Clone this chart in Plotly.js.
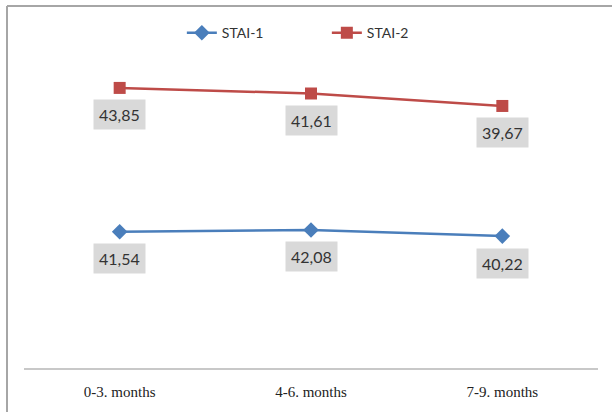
<!DOCTYPE html>
<html>
<head>
<meta charset="utf-8">
<script src="https://cdn.plot.ly/plotly-3.0.1.min.js"></script>
<style>
html,body{margin:0;padding:0;background:#fff;}
#chart{width:612px;height:412px;}
</style>
</head>
<body>
<div id="chart"></div>
<script>
const categories = ['0-3. months', '4-6. months', '7-9. months'];
const stai1 = [41.54, 42.08, 40.22];
const stai2 = [43.85, 41.61, 39.67];
const seriesNames = ['STAI-1', 'STAI-2'];

const fmt = v => v.toFixed(2).replace('.', ',');
const stacked2 = stai1.map((v, i) => v + stai2[i]);

const traces = [
  {
    x: categories, y: stai1, name: seriesNames[0], type: 'scatter', mode: 'lines+markers',
    stackgroup: 'one', fill: 'none',
    line: {color: '#4A7EBB', width: 2.5},
    marker: {symbol: 'diamond', size: 12, color: '#4A7EBB'}
  },
  {
    x: categories, y: stai2, name: seriesNames[1], type: 'scatter', mode: 'lines+markers',
    stackgroup: 'one', fill: 'none',
    line: {color: '#BE4B48', width: 2.5},
    marker: {symbol: 'square', size: 12, color: '#BE4B48'}
  }
];

const annotations = [];
categories.forEach((c, i) => {
  annotations.push({x: c, y: stai1[i], xref: 'x', yref: 'y', text: fmt(stai1[i]),
    showarrow: false, yshift: -27, bgcolor: '#D9D9D9', borderpad: 5,
    font: {family: 'Lato, sans-serif', size: 16, color: '#333333'}});
  annotations.push({x: c, y: stacked2[i], xref: 'x', yref: 'y', text: fmt(stai2[i]),
    showarrow: false, yshift: -27, bgcolor: '#D9D9D9', borderpad: 5,
    font: {family: 'Lato, sans-serif', size: 16, color: '#333333'}});
});

const layout = {
  width: 612, height: 412,
  margin: {l: 24, r: 14, t: 40, b: 44},
  paper_bgcolor: '#ffffff', plot_bgcolor: '#ffffff',
  showlegend: true,
  legend: {orientation: 'h', x: 0.275, xanchor: 'left', y: 1.021, yanchor: 'middle',
    entrywidth: 100, entrywidthmode: 'pixels',
    font: {family: 'Lato, sans-serif', size: 14, color: '#333333'}},
  xaxis: {type: 'category', range: [-0.5, 2.5], showgrid: false, zeroline: false,
    showline: true, linecolor: '#C8C8C8', linewidth: 1.5, ticks: '',
    tickfont: {family: 'Liberation Serif, serif', size: 15, color: '#222222'},
    ticklabelstandoff: 9, fixedrange: true},
  yaxis: {range: [0, 100], showgrid: false, zeroline: false, showline: false,
    showticklabels: false, ticks: '', fixedrange: true},
  annotations: annotations,
  shapes: [
    {type: 'line', xref: 'paper', yref: 'paper', x0: (7 - 24) / 574, x1: (612 - 24) / 574,
      y0: (368 - 6) / 328, y1: (368 - 6) / 328, line: {color: '#A6A6A6', width: 2}},
    {type: 'line', xref: 'paper', yref: 'paper', x0: (7 - 24) / 574, x1: (7 - 24) / 574,
      y0: (368 - 6) / 328, y1: (368 - 412) / 328, line: {color: '#A6A6A6', width: 2}}
  ]
};

Plotly.newPlot('chart', traces, layout, {displayModeBar: false, staticPlot: true});
</script>
</body>
</html>
